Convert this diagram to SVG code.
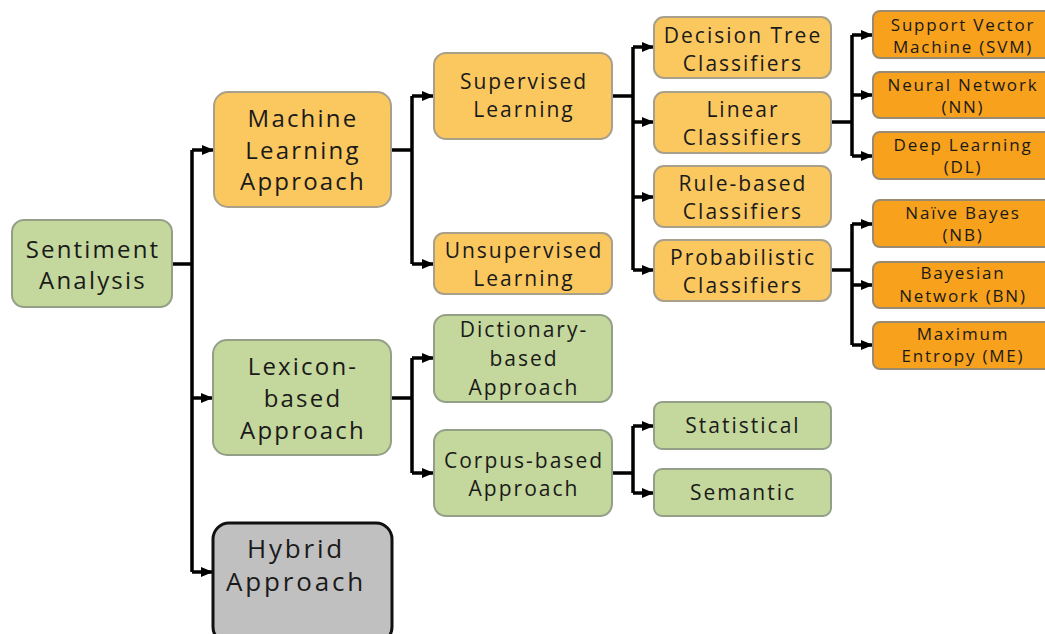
<svg xmlns="http://www.w3.org/2000/svg" width="1045" height="634" viewBox="0 0 1045 634">
<defs>
<marker id="ah" markerWidth="12" markerHeight="12" refX="11" refY="6" orient="auto" markerUnits="userSpaceOnUse">
<path d="M0,1 L12,6 L0,11 Z" fill="#000"/>
</marker>
<style>
text{font-family:"Open Sans","Liberation Sans",sans-serif;fill:#1a1a1a;text-anchor:middle}
.g{fill:#c4d79c;stroke:#949f88;stroke-width:2}
.o{fill:#fbc860;stroke:#a8a08a;stroke-width:2}
.d{fill:#f7a11c;stroke:#9a8a70;stroke-width:2}
.h{fill:#c0c0c0;stroke:#111;stroke-width:3}
.c path{fill:none;stroke:#000;stroke-width:3.5}
.f24{font-size:24px;letter-spacing:2.2px}.f21{font-size:21px;letter-spacing:2px}.f17{font-size:17px;letter-spacing:1.8px}.f26{font-size:26px;letter-spacing:2.8px}
</style>
</defs>
<rect width="1045" height="634" fill="#fff"/>
<g class="c">
<path d="M172,264 H192"/>
<path d="M192,150 V572"/>
<path d="M192,150 H213" marker-end="url(#ah)"/>
<path d="M192,398 H212" marker-end="url(#ah)"/>
<path d="M192,572 H212" marker-end="url(#ah)"/>
<path d="M391,150 H412 M412,96 V264"/>
<path d="M412,96 H433" marker-end="url(#ah)"/>
<path d="M412,264 H433" marker-end="url(#ah)"/>
<path d="M612,96 H633 M633,47 V270"/>
<path d="M633,47 H653" marker-end="url(#ah)"/>
<path d="M633,122 H653" marker-end="url(#ah)"/>
<path d="M633,197 H653" marker-end="url(#ah)"/>
<path d="M633,270 H653" marker-end="url(#ah)"/>
<path d="M831,122 H852 M852,35 V156"/>
<path d="M852,35 H872" marker-end="url(#ah)"/>
<path d="M852,95 H872" marker-end="url(#ah)"/>
<path d="M852,156 H872" marker-end="url(#ah)"/>
<path d="M831,270 H852 M852,224 V345"/>
<path d="M852,224 H872" marker-end="url(#ah)"/>
<path d="M852,285 H872" marker-end="url(#ah)"/>
<path d="M852,345 H872" marker-end="url(#ah)"/>
<path d="M391,398 H412 M412,358 V473"/>
<path d="M412,358 H433" marker-end="url(#ah)"/>
<path d="M412,473 H433" marker-end="url(#ah)"/>
<path d="M612,473 H633 M633,426 V493"/>
<path d="M633,426 H653" marker-end="url(#ah)"/>
<path d="M633,493 H653" marker-end="url(#ah)"/>
</g>
<g id="sentiment"><rect class="g" x="12" y="220" width="160" height="87" rx="12"/><text class="f24" x="93" y="258">Sentiment</text><text class="f24" x="93" y="289">Analysis</text></g>
<g id="ml"><rect class="o" x="214" y="92" width="177" height="115" rx="14"/><text class="f24" x="303" y="127">Machine</text><text class="f24" x="303" y="159">Learning</text><text class="f24" x="303" y="190">Approach</text></g>
<g id="lexicon"><rect class="g" x="213" y="340" width="178" height="115" rx="14"/><text class="f24" x="303" y="375">Lexicon-</text><text class="f24" x="303" y="407">based</text><text class="f24" x="303" y="439">Approach</text></g>
<g id="hybrid"><rect class="h" x="213" y="523" width="179" height="120" rx="16"/><text class="f26" x="296" y="558">Hybrid</text><text class="f26" x="296" y="591">Approach</text></g>
<g id="supervised"><rect class="o" x="434" y="53" width="178" height="86" rx="12"/><text class="f21" x="524" y="89">Supervised</text><text class="f21" x="524" y="117">Learning</text></g>
<g id="unsupervised"><rect class="o" x="434" y="233" width="178" height="61" rx="10"/><text class="f21" x="524" y="258">Unsupervised</text><text class="f21" x="524" y="286">Learning</text></g>
<g id="dictionary"><rect class="g" x="434" y="315" width="178" height="87" rx="12"/><text class="f21" x="524" y="337">Dictionary-</text><text class="f21" x="524" y="366">based</text><text class="f21" x="524" y="395">Approach</text></g>
<g id="corpus"><rect class="g" x="434" y="430" width="178" height="86" rx="12"/><text class="f21" x="524" y="468">Corpus-based</text><text class="f21" x="524" y="496">Approach</text></g>
<g id="decision"><rect class="o" x="654" y="17" width="177" height="61" rx="10"/><text class="f21" x="743" y="43">Decision Tree</text><text class="f21" x="743" y="71">Classifiers</text></g>
<g id="linear"><rect class="o" x="654" y="92" width="177" height="61" rx="10"/><text class="f21" x="743" y="117">Linear</text><text class="f21" x="743" y="145">Classifiers</text></g>
<g id="rule"><rect class="o" x="654" y="166" width="177" height="61" rx="10"/><text class="f21" x="743" y="191">Rule-based</text><text class="f21" x="743" y="219">Classifiers</text></g>
<g id="prob"><rect class="o" x="654" y="240" width="177" height="61" rx="10"/><text class="f21" x="743" y="265">Probabilistic</text><text class="f21" x="743" y="293">Classifiers</text></g>
<g id="statistical"><rect class="g" x="654" y="402" width="177" height="47" rx="8"/><text class="f21" x="743" y="433">Statistical</text></g>
<g id="semantic"><rect class="g" x="654" y="469" width="177" height="47" rx="8"/><text class="f21" x="743" y="500">Semantic</text></g>
<g id="svm"><rect class="d" x="873" y="11" width="180" height="47" rx="7"/><text class="f17" x="963" y="31">Support Vector</text><text class="f17" x="963" y="53">Machine (SVM)</text></g>
<g id="nn"><rect class="d" x="873" y="72" width="180" height="46" rx="7"/><text class="f17" x="963" y="91">Neural Network</text><text class="f17" x="963" y="113">(NN)</text></g>
<g id="dl"><rect class="d" x="873" y="132" width="180" height="47" rx="7"/><text class="f17" x="963" y="151">Deep Learning</text><text class="f17" x="963" y="173">(DL)</text></g>
<g id="nb"><rect class="d" x="873" y="200" width="180" height="47" rx="7"/><text class="f17" x="963" y="219">Naïve Bayes</text><text class="f17" x="963" y="241">(NB)</text></g>
<g id="bn"><rect class="d" x="873" y="262" width="180" height="46" rx="7"/><text class="f17" x="963" y="279">Bayesian</text><text class="f17" x="963" y="302">Network (BN)</text></g>
<g id="me"><rect class="d" x="873" y="322" width="180" height="47" rx="7"/><text class="f17" x="963" y="340">Maximum</text><text class="f17" x="963" y="362">Entropy (ME)</text></g>
</svg>
